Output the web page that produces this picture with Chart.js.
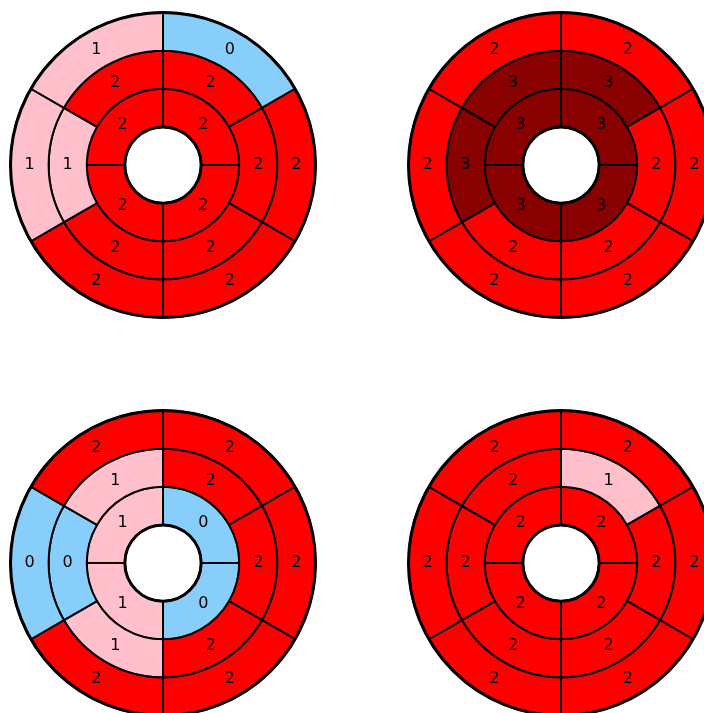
<!DOCTYPE html>
<html>
<head>
<meta charset="utf-8">
<script src="https://cdn.jsdelivr.net/npm/chart.js@4"></script>
<style>
  html, body { margin: 0; padding: 0; background: #fff; }
  #wrap { position: relative; width: 704px; height: 713px; overflow: hidden; }
  #wrap canvas { position: absolute; }
</style>
</head>
<body>
<div id="wrap">
  <canvas id="tl" width="320" height="320"></canvas>
  <canvas id="tr" width="320" height="320"></canvas>
  <canvas id="bl" width="320" height="320"></canvas>
  <canvas id="br" width="320" height="320"></canvas>
</div>
<script>
// scores per segment, clockwise from 12 o'clock
// outer + middle rings: 6 segments, inner ring: 4 segments
const tlOuter  = [0, 2, 2, 2, 1, 1];
const tlMiddle = [2, 2, 2, 2, 1, 2];
const tlInner  = [2, 2, 2, 2];

const trOuter  = [2, 2, 2, 2, 2, 2];
const trMiddle = [3, 2, 2, 2, 3, 3];
const trInner  = [3, 3, 3, 3];

const blOuter  = [2, 2, 2, 2, 0, 2];
const blMiddle = [2, 2, 2, 1, 0, 1];
const blInner  = [0, 0, 1, 1];

const brOuter  = [2, 2, 2, 2, 2, 2];
const brMiddle = [1, 2, 2, 2, 2, 2];
const brInner  = [2, 2, 2, 2];

const scoreColors = ['#87cefa', '#ffc0cb', '#ff0000', '#880000'];

// label + outline plugin
const bullseyeLabels = {
  id: 'bullseyeLabels',
  afterDatasetsDraw(chart) {
    const ctx = chart.ctx;
    ctx.save();
    ctx.fillStyle = '#000';
    ctx.font = '16px "DejaVu Sans", sans-serif';
    ctx.textAlign = 'center';
    ctx.textBaseline = 'middle';
    chart.data.datasets.forEach((ds, i) => {
      chart.getDatasetMeta(i).data.forEach((arc, j) => {
        const p = arc.tooltipPosition();
        ctx.fillText(String(ds.scores[j]), p.x, p.y);
      });
    });
    // thicker outer rim and hole rim
    const first = chart.getDatasetMeta(0).data[0];
    const last = chart.getDatasetMeta(chart.data.datasets.length - 1).data[0];
    ctx.strokeStyle = '#000';
    ctx.lineWidth = 3;
    ctx.beginPath();
    ctx.arc(first.x, first.y, first.outerRadius, 0, Math.PI * 2);
    ctx.stroke();
    ctx.beginPath();
    ctx.arc(last.x, last.y, last.innerRadius, 0, Math.PI * 2);
    ctx.stroke();
    ctx.restore();
  }
};

function ring(scores) {
  return {
    data: scores.map(() => 1),
    scores: scores,
    backgroundColor: scores.map(s => scoreColors[s]),
    borderColor: '#000',
    borderWidth: 2,
    hoverOffset: 0
  };
}

function bullseye(id, left, top, outer, middle, inner) {
  const canvas = document.getElementById(id);
  canvas.style.left = left + 'px';
  canvas.style.top = top + 'px';
  new Chart(canvas, {
    type: 'doughnut',
    data: { datasets: [ring(outer), ring(middle), ring(inner)] },
    options: {
      responsive: false,
      animation: false,
      radius: 152.5,
      cutout: '25%',
      layout: { padding: 0 },
      plugins: { legend: { display: false }, tooltip: { enabled: false } },
      events: []
    },
    plugins: [bullseyeLabels]
  });
}

bullseye('tl', 163 - 160, 164.5 - 160, tlOuter, tlMiddle, tlInner);
bullseye('tr', 561 - 160, 164.5 - 160, trOuter, trMiddle, trInner);
bullseye('bl', 163 - 160, 563 - 160, blOuter, blMiddle, blInner);
bullseye('br', 561 - 160, 563 - 160, brOuter, brMiddle, brInner);
</script>
</body>
</html>
